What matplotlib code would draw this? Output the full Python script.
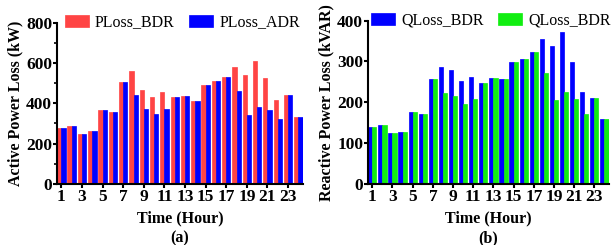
import numpy as np
import matplotlib
matplotlib.use("Agg")
import matplotlib.pyplot as plt
from matplotlib.ticker import MultipleLocator

plt.rcParams['font.family'] = ['Liberation Serif', 'DejaVu Serif']

hours = np.arange(1, 25)
p_bdr = [275, 289, 246, 261, 369, 359, 506, 559, 467, 431, 457, 433,
         438, 411, 491, 508, 531, 582, 538, 608, 523, 418, 441, 330]
p_adr = [275, 289, 246, 261, 369, 359, 506, 443, 372, 346, 374, 433,
         438, 411, 491, 508, 531, 462, 344, 382, 369, 321, 441, 330]
q_bdr = [140, 144, 124, 128, 176, 171, 256, 287, 279, 253, 261, 246,
         259, 256, 298, 306, 322, 354, 338, 371, 298, 225, 210, 160]
q_adr = [140, 144, 124, 128, 176, 171, 256, 223, 215, 196, 207, 246,
         259, 256, 298, 306, 322, 271, 206, 224, 208, 171, 210, 160]
xticks = np.arange(1, 25, 2)

fig = plt.figure(figsize=(6.14, 2.45), dpi=100)
ax1 = fig.add_axes([0.0928, 0.249, 0.4007, 0.659])
ax2 = fig.add_axes([0.5993, 0.249, 0.3925, 0.667])

w = 0.41


def draw(ax, a, b, ca, cb, la, lb, ymax, ystep, ylabel, tag, minor=None):
    ax.bar(hours - w / 2, a, width=w, color=ca, edgecolor=ca, linewidth=0.5, label=la)
    ax.bar(hours + w / 2, b, width=w, color=cb, edgecolor=cb, linewidth=0.5, label=lb)
    ax.set_xlim(0.57, 24.45)
    ax.set_ylim(0, ymax)
    ax.set_xticks(xticks)
    ax.set_yticks(np.arange(0, ymax + 1, ystep))
    if minor:
        ax.yaxis.set_minor_locator(MultipleLocator(minor))
    for s in ['top', 'right']:
        ax.spines[s].set_visible(False)
    for s in ['left', 'bottom']:
        ax.spines[s].set_linewidth(1.5)
    ax.tick_params(axis='both', which='major', labelsize=12.5, width=1.5, length=3, pad=0.5)
    ax.tick_params(axis='y', which='minor', width=1.2, length=2)
    for lab in ax.get_xticklabels() + ax.get_yticklabels():
        lab.set_fontweight('bold')
    # axes height in pixels, for placing the labels below the tick labels
    h = ax.get_position().height * 245
    ax.set_ylabel(ylabel, fontsize=11.5, fontweight='bold', labelpad=2)
    ax.set_xlabel('Time (Hour)', fontsize=11.5, fontweight='bold')
    ax.xaxis.set_label_coords(0.5, -26 / h)
    ax.text(0.5, -54 / h, tag, transform=ax.transAxes, ha='center', va='center',
            fontsize=11.5, fontweight='bold')
    ax.legend(loc='center', bbox_to_anchor=(0.51, 1.0), ncol=2, frameon=False,
              fontsize=11.5, handlelength=1.5, handleheight=0.8, columnspacing=0.9,
              handletextpad=0.4, borderaxespad=0)


draw(ax1, p_bdr, p_adr, '#ff4444', '#0000ff', 'PLoss_BDR', 'PLoss_ADR',
     800, 200, 'Active Power Loss (kW)', '(a)', minor=100)
draw(ax2, q_bdr, q_adr, '#0000ff', '#11ee11', 'QLoss_BDR', 'QLoss_BDR',
     400, 100, 'Reactive Power Loss (kVAR)', '(b)')

fig.savefig('out.png', dpi=100)
